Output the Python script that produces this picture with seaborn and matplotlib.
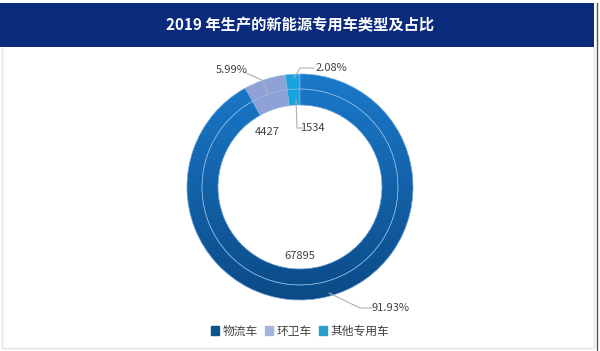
import numpy as np
import matplotlib
matplotlib.use("Agg")
import matplotlib.pyplot as plt
import seaborn as sns
from matplotlib.patches import Rectangle

sns.set_theme(style="white")
plt.rcParams['font.family'] = ['Noto Sans CJK SC', 'DejaVu Sans']

# 数据
categories = ["物流车", "环卫车", "其他专用车"]
counts = [67895, 4427, 1534]
percents = ["91.93%", "5.99%", "2.08%"]
colors = ["#1268b8", "#8ea2d8", "#18a3df"]

W, H = 600, 351
fig = plt.figure(figsize=(6, 3.51), dpi=100)
ax = fig.add_axes([0, 0, 1, 1])

cx, cy = 300, H - 187
r_out, r_mid, r_in = 113, 98, 82
sep = dict(edgecolor="#8fbbe6", linewidth=0.4)

# 外环（占比）和内环（数量）
outer, _ = ax.pie(counts, radius=r_out, center=(cx, cy), startangle=90, counterclock=False,
                  colors=colors, wedgeprops=dict(width=r_out - r_mid, **sep))
inner, _ = ax.pie(counts, radius=r_mid, center=(cx, cy), startangle=90, counterclock=False,
                  colors=colors, wedgeprops=dict(width=r_mid - r_in, **sep))

# 物流车渐变色（上浅下深）
grad = np.linspace(0, 1, 256).reshape(-1, 1)
cmap = matplotlib.colors.LinearSegmentedColormap.from_list("g", ["#1b7acb", "#0b4a86"])
for w in (outer[0], inner[0]):
    im = ax.imshow(grad, extent=(cx - r_out, cx + r_out, cy - r_out, cy + r_out),
                   cmap=cmap, aspect="auto", zorder=w.get_zorder() + 0.1, origin="upper")
    im.set_clip_path(w)
    # 分隔线
    ax.add_patch(matplotlib.patches.Wedge((cx, cy), w.r, w.theta1, w.theta2, width=w.width,
                                          facecolor="none", zorder=w.get_zorder() + 0.2, **sep))

# 标签和引线
lab_color = "#404040"
line_color = "#b0b0b0"
ax.text(232, H - 70, percents[1], ha="center", va="center", fontsize=8, color=lab_color)
ax.plot([246, 262, 268], [H - 73, H - 80, H - 94], color=line_color, lw=0.8)
ax.text(331, H - 68, percents[2], ha="center", va="center", fontsize=8, color=lab_color)
ax.plot([314, 300, 294], [H - 68, H - 68, H - 78], color=line_color, lw=0.8)
ax.text(267, H - 132, str(counts[1]), ha="center", va="center", fontsize=8, color=lab_color)
ax.text(312, H - 128, str(counts[2]), ha="center", va="center", fontsize=8, color=lab_color)
ax.plot([302, 297, 296], [H - 128, H - 128, H - 100], color=line_color, lw=0.8)
ax.text(300, H - 256, str(counts[0]), ha="center", va="center", fontsize=8, color=lab_color)
ax.text(391, H - 308, percents[0], ha="center", va="center", fontsize=8, color=lab_color)
ax.plot([329, 360, 372], [H - 293, H - 308, H - 308], color=line_color, lw=0.8)

# 标题横幅
ax.add_patch(Rectangle((0, H - 47), 594, 44, facecolor="#0a2a7c", edgecolor="none", zorder=5))
ax.text(300, H - 25, "2019 年生产的新能源专用车类型及占比", ha="center", va="center",
        fontsize=11, fontweight="bold", color="white", zorder=6)

# 外框
ax.plot([2, 2, 594, 594], [H - 47, H - 348, H - 348, H - 47], color="#e3e3e3", lw=1)
ax.plot([597, 597], [H - 3, H - 350], color="#555555", lw=1)

# 图例
handles = [Rectangle((0, 0), 1, 1, color=c) for c in ["#0d558f", "#a4b2dc", "#27a0d0"]]
leg = ax.legend(handles, categories, loc="center", bbox_to_anchor=(300 / W, (H - 331) / H),
                ncol=3, frameon=False, fontsize=8.5, handlelength=0.7, handleheight=0.7,
                handletextpad=0.3, columnspacing=0.6, labelcolor="#404040")

ax.set_xlim(0, W)
ax.set_ylim(0, H)
ax.set_aspect("auto")
ax.axis("off")
fig.savefig("out.png", dpi=100, facecolor="white")
